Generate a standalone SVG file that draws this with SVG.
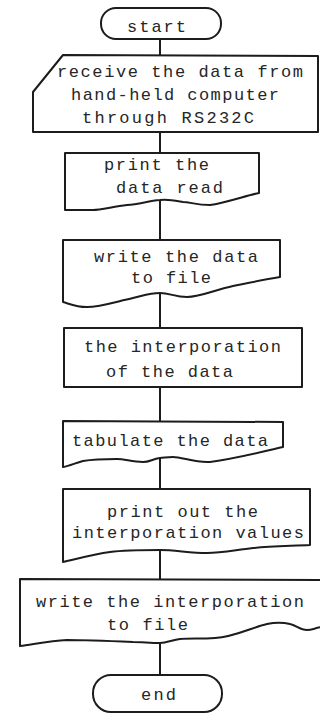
<svg xmlns="http://www.w3.org/2000/svg" width="320" height="715" viewBox="0 0 320 715">
<style>
.s{fill:#fff;stroke:#1c1c1c;stroke-width:2;stroke-linejoin:round}
.c{fill:none;stroke:#1c1c1c;stroke-width:2}
text{font-family:"Liberation Mono","DejaVu Sans Mono",monospace;font-size:17px;fill:#262626}
</style>
<rect width="320" height="715" fill="#fff"/>
<g id="connectors">
<line class="c" x1="160" y1="39" x2="160" y2="55"/>
<line class="c" x1="160" y1="132" x2="160" y2="153"/>
<line class="c" x1="160" y1="200" x2="160" y2="240"/>
<line class="c" x1="160" y1="293" x2="160" y2="328"/>
<line class="c" x1="160" y1="387" x2="160" y2="421"/>
<line class="c" x1="160" y1="458" x2="160" y2="489"/>
<line class="c" x1="160" y1="550" x2="160" y2="579"/>
<line class="c" x1="160" y1="643" x2="160" y2="675"/>
</g>
<g id="start">
<rect class="s" x="101" y="8" width="120" height="31" rx="15"/>
<text x="127" y="32" textLength="59" lengthAdjust="spacing">start</text>
</g>
<g id="receive">
<path class="s" d="M63,55 L318,56 L318,132 L33,132 L33,92 Z"/>
<text x="57" y="77" textLength="246" lengthAdjust="spacing">receive the data from</text>
<text x="71" y="100" textLength="208" lengthAdjust="spacing">hand-held computer</text>
<text x="82" y="123" textLength="172" lengthAdjust="spacing">through RS232C</text>
</g>
<g id="print-data">
<path class="s" d="M65,153 L259,153 L259,193 C248,195 225,203 210,205 C196,205 190,202 183,202 C172,200 168,199 160,200 C148,201 140,204 127,205 C112,207 100,210 93,210 L65,210 Z"/>
<text x="104" y="170" textLength="105" lengthAdjust="spacing">print the</text>
<text x="116" y="193" textLength="107" lengthAdjust="spacing">data read</text>
</g>
<g id="write-data">
<path class="s" d="M63,240 L280,240 L280,277 C262,280 248,283 233,286 C215,290 200,297 187,297 C175,297 170,293 160,293 C150,293 142,296 133,298 C115,302 100,307 87,307 C76,307 70,304 63,302 Z"/>
<text x="94" y="262" textLength="164" lengthAdjust="spacing">write the data</text>
<text x="131" y="283" textLength="80" lengthAdjust="spacing">to file</text>
</g>
<g id="interporation">
<rect class="s" x="64" y="328" width="238" height="59"/>
<text x="84" y="352" textLength="197" lengthAdjust="spacing">the interporation</text>
<text x="106" y="377" textLength="127" lengthAdjust="spacing">of the data</text>
</g>
<g id="tabulate">
<path class="s" d="M63,421 L283,422 L283,447 C265,451 240,458 210,462 C195,463 182,457 173,457 C166,457 164,458 160,458 C152,459 150,462 143,462 C132,462 125,459 117,459 C105,459 95,459 83,461 C75,463 70,466 63,467 Z"/>
<text x="72" y="446" textLength="196" lengthAdjust="spacing">tabulate the data</text>
</g>
<g id="print-values">
<path class="s" d="M63,489 L310,489 L310,545 C290,546 270,546 253,548 C235,550 222,553 207,553 C190,553 175,550 160,550 C140,550 125,550 110,552 C95,554 80,558 63,562 Z"/>
<text x="107" y="517" textLength="151" lengthAdjust="spacing">print out the</text>
<text x="72" y="538" textLength="232" lengthAdjust="spacing">interporation values</text>
</g>
<g id="write-interporation">
<path class="s" d="M20,579 L322,580 L322,627 C315,628 312,630 307,630 C300,630 296,625 290,624 C282,622 276,622 267,624 C250,628 235,637 215,638 C200,639 190,638 180,639 C172,640 167,643 160,643 C150,643 142,642 133,642 C110,641 85,640 67,640 C50,641 35,644 20,646 Z"/>
<text x="36" y="607" textLength="268" lengthAdjust="spacing">write the interporation</text>
<text x="107" y="630" textLength="81" lengthAdjust="spacing">to file</text>
</g>
<g id="end">
<rect class="s" x="93" y="675" width="129" height="37" rx="18"/>
<text x="141" y="700" textLength="35" lengthAdjust="spacing">end</text>
</g>
</svg>
